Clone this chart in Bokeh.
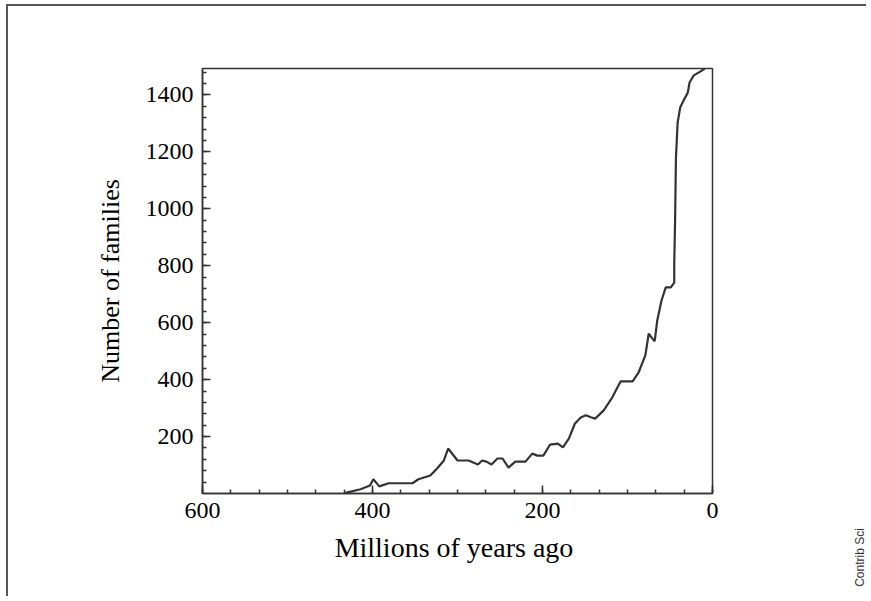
import math
from bokeh.plotting import figure
from bokeh.layouts import row, column
from bokeh.models import Range1d, FixedTicker, Label
from bokeh.embed import file_html
from bokeh.resources import INLINE

# Data (millions of years ago, number of families)
ages = [432, 414, 403, 399, 392, 381, 353, 346, 332, 324, 316, 311, 300, 287,
        276, 271, 266, 260, 253, 247, 240, 232, 220, 212, 206, 199, 191, 182,
        176, 169, 162, 155, 149, 143, 138, 128, 118, 108, 94, 87, 79, 75, 71,
        68, 65, 60, 55, 49, 45, 45, 44, 43, 41, 38, 34, 29, 27, 22, 14, 9]
families = [2, 15, 28, 50, 25, 36, 36, 50, 63, 88, 116, 158, 116, 116,
            102, 116, 112, 102, 123, 123, 91, 112, 112, 140, 133, 133, 172, 175,
            162, 193, 245, 267, 275, 268, 263, 292, 337, 394, 394, 425, 485, 562, 545,
            535, 608, 678, 724, 724, 741, 808, 960, 1180, 1303, 1356, 1381, 1409, 1444, 1469, 1483, 1493]

x_major = [600, 400, 200, 0]
x_minor = [600 - k * 200 / 6 for k in range(19)]
y_major = [200, 400, 600, 800, 1000, 1200, 1400]
y_minor = [40 * k for k in range(1, 38)]

FONT = "Liberation Serif"
INK = "#333333"
H = 592

p = figure(width=830, height=H, output_backend="svg", toolbar_location=None,
           x_range=Range1d(600, 0), y_range=Range1d(0, 1493),
           min_border_left=194, min_border_right=126, min_border_top=62,
           min_border_bottom=105)
p.styles = {"border-top": "2px solid #555555", "border-left": "2px solid #555555",
            "margin-top": "4px", "margin-left": "6px"}

p.line(ages, families, line_color=INK, line_width=2.2)

p.grid.visible = False
p.outline_line_color = INK
p.outline_line_width = 1.5
p.background_fill_color = "white"
p.border_fill_color = "white"

p.xaxis.ticker = FixedTicker(ticks=x_major, minor_ticks=x_minor)
p.yaxis.ticker = FixedTicker(ticks=y_major, minor_ticks=y_minor)

for ax in (p.xaxis, p.yaxis):
    ax.axis_line_color = INK
    ax.axis_line_width = 1.5
    ax.major_tick_line_color = INK
    ax.minor_tick_line_color = INK
    ax.major_tick_line_width = 1.5
    ax.minor_tick_line_width = 1.5
    ax.major_tick_in = 8
    ax.major_tick_out = 0
    ax.minor_tick_in = 4
    ax.minor_tick_out = 0
    ax.major_label_text_font = FONT
    ax.major_label_text_font_size = "24px"
    ax.major_label_text_color = "black"
    ax.axis_label_text_font = FONT
    ax.axis_label_text_font_style = "normal"
    ax.axis_label_text_color = "black"

p.xaxis.axis_label = "Millions of  years ago"
p.xaxis.axis_label_text_font_size = "28px"
p.xaxis.major_label_standoff = 9
p.xaxis.axis_label_standoff = 11

p.yaxis.axis_label = "Number of families"
p.yaxis.axis_label_text_font_size = "26px"
p.yaxis.major_label_standoff = 9
p.yaxis.axis_label_standoff = 18

# narrow side strip carrying the credit text
q = figure(width=30, height=H, output_backend="svg", toolbar_location=None,
           x_range=Range1d(0, 1), y_range=Range1d(0, 1),
           min_border=0, x_axis_location=None, y_axis_location=None)
q.styles = {"border-top": "2px solid #555555", "margin-top": "4px"}
q.grid.visible = False
q.outline_line_color = None
q.background_fill_color = "white"
q.border_fill_color = "white"
q.add_layout(Label(x=23, y=41, x_units="screen", y_units="screen",
                   text="Contrib Sci", angle=math.pi / 2,
                   text_align="center", text_baseline="middle",
                   text_font="Liberation Sans", text_font_size="12px",
                   text_color=INK))

layout = row(p, column(q))
open("out.html", "w").write(file_html(layout, INLINE))
